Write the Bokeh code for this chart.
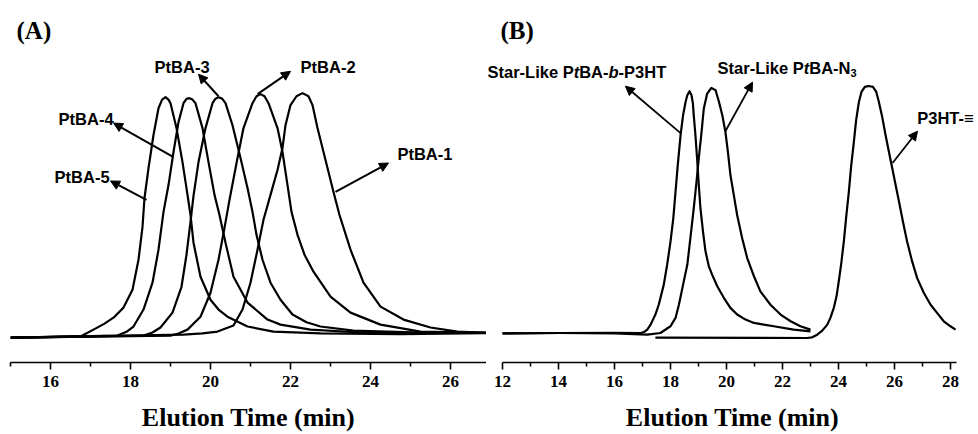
from bokeh.plotting import figure
from bokeh.models import Range1d, Label, Arrow, NormalHead, FixedTicker
from bokeh.layouts import row
from bokeh.embed import file_html
from bokeh.resources import INLINE

# ---------------- Panel A data (elution time, min / intensity, a.u.) -------------
a5_x = [15.0, 16.75, 17.075, 17.35, 17.575, 17.825, 18.05, 18.2, 18.3, 18.35, 18.45, 18.575, 18.7,
        18.79, 18.875, 18.95, 19.0, 19.15, 19.3, 19.425, 19.5, 19.575, 19.75, 20.0, 20.2, 20.425,
        20.925, 21.575, 22.75, 24.75, 27.0]
a5_y = [-0.4, 0.0, 2.9, 5.4, 7.9, 12.1, 19.6, 32.1, 45.8, 57.9, 70.4, 84.2, 95.4,
        99.0, 100.0, 99.0, 97.5, 87.1, 72.9, 59.2, 50.8, 39.2, 25.0, 15.4, 11.3, 8.3,
        4.2, 2.1, 1.3, 1.0, 1.5]

a4_x = [15.0, 17.675, 17.9, 18.075, 18.325, 18.55, 18.7, 18.825, 18.95, 19.075, 19.2, 19.325,
        19.4, 19.475, 19.55, 19.625, 19.8, 19.95, 20.1, 20.225, 20.375, 20.575, 20.925,
        21.425, 21.75, 22.5, 23.75, 27.0]
a4_y = [-0.4, 0.4, 2.0, 4.2, 11.3, 22.5, 36.3, 52.1, 63.3, 77.1, 89.6, 97.5,
        99.3, 99.6, 99.0, 97.5, 87.1, 72.9, 59.2, 50.8, 39.2, 25.0, 14.2,
        7.1, 5.0, 2.9, 1.7, 1.5]

a3_x = [15.0, 18.325, 18.55, 18.75, 19.05, 19.275, 19.4, 19.5, 19.575, 19.7, 19.875, 20.05, 20.125,
        20.2, 20.29, 20.375, 20.55, 20.75, 20.925, 21.05, 21.15, 21.3, 21.5, 21.75, 22.05,
        22.4, 22.75, 23.575, 25.25, 27.0]
a3_y = [-0.4, 0.4, 1.7, 3.8, 10.0, 20.8, 34.2, 47.9, 58.8, 72.9, 87.1, 97.5, 99.4,
        100.0, 99.4, 97.5, 88.3, 74.6, 62.1, 52.1, 42.5, 32.1, 22.5, 15.4, 9.2,
        6.0, 4.2, 2.5, 1.7, 1.5]

a2_x = [15.0, 19.0, 19.2, 19.425, 19.75, 20.0, 20.2, 20.35, 20.475, 20.675, 20.825, 21.05, 21.15,
        21.25, 21.35, 21.45, 21.675, 21.8, 21.925, 22.025, 22.175, 22.35, 22.575, 23.0,
        23.5, 24.25, 25.25, 27.0]
a2_y = [-0.4, 0.4, 1.3, 2.9, 8.3, 18.3, 32.1, 45.4, 57.1, 74.6, 87.1, 97.5, 100.4,
        101.3, 100.4, 97.5, 87.1, 77.1, 63.3, 52.1, 42.5, 34.2, 27.1, 16.7,
        10.0, 5.0, 2.1, 1.5]

a1_x = [15.0, 19.325, 19.8, 20.175, 20.575, 20.8, 21.0, 21.175, 21.325, 21.5, 21.675, 21.8, 21.875,
        22.0, 22.15, 22.3, 22.45, 22.55, 22.675, 22.825, 23.075, 23.225, 23.5, 23.825,
        24.25, 24.825, 25.5, 26.175, 27.0]
a1_y = [-0.4, 0.8, 1.3, 2.1, 4.6, 11.3, 22.5, 36.3, 48.8, 59.2, 69.6, 78.8, 88.3,
        96.7, 100.4, 101.7, 100.4, 96.7, 87.1, 77.1, 60.4, 50.8, 36.3, 22.5,
        12.5, 7.1, 3.8, 2.1, 1.5]

a_ticks = [16, 18, 20, 22, 24, 26]
a_minor = [15, 17, 19, 21, 23, 25, 27]

# ---------------- Panel B data -------------
# Star-Like PtBA-b-P3HT
b1_x = [12.0, 14.0, 16.0, 16.93, 17.05, 17.17, 17.29, 17.46, 17.58, 17.76, 17.88, 18.0, 18.10,
        18.18, 18.26, 18.36, 18.45, 18.54, 18.60, 18.68, 18.75, 18.80, 18.83, 18.89, 18.95,
        19.01, 19.07, 19.16, 19.25, 19.37, 19.49, 19.67, 19.91, 20.14, 20.38, 20.68, 20.98,
        21.33, 21.69, 22.40, 23.0]
b1_y = [1.3, 1.5, 1.6, 1.5, 1.9, 2.9, 5.0, 9.2, 13.3, 21.7, 30.0, 39.7, 49.4,
        60.6, 71.7, 84.2, 92.5, 98.1, 100.8, 102.5, 100.8, 97.4, 92.5, 84.2, 74.4,
        63.3, 53.6, 43.9, 35.6, 29.3, 25.8, 21.0, 16.1, 12.0, 9.2, 7.1, 5.7,
        5.0, 4.3, 2.9, 2.2]

# Star-Like PtBA-N3
b2_x = [12.0, 14.0, 16.0, 17.17, 17.64, 18.0, 18.18, 18.30, 18.45, 18.60, 18.71, 18.83, 18.93,
        19.01, 19.11, 19.19, 19.31, 19.46, 19.61, 19.73, 19.85, 19.96, 20.05, 20.14, 20.26,
        20.38, 20.56, 20.74, 20.98, 21.21, 21.57, 21.93, 22.29, 22.64, 23.0]
b2_y = [1.3, 1.5, 1.3, 0.8, 1.5, 4.3, 7.8, 13.3, 21.7, 30.0, 41.1, 53.6, 64.7,
        74.4, 85.6, 95.3, 101.5, 103.9, 102.9, 98.1, 92.5, 85.6, 77.2, 67.5, 59.2,
        50.8, 41.1, 32.8, 25.2, 18.9, 13.3, 9.2, 6.4, 4.3, 2.9]

# P3HT-alkyne
b3_x = [17.46, 22.88, 23.06, 23.24, 23.42, 23.60, 23.71, 23.83, 23.93, 24.01, 24.10, 24.19, 24.27,
        24.37, 24.45, 24.55, 24.63, 24.73, 24.82, 24.94, 25.08, 25.23, 25.35, 25.44, 25.56,
        25.68, 25.80, 25.92, 26.04, 26.16, 26.30, 26.45, 26.63, 26.81, 27.05, 27.29, 27.52,
        27.76, 28.0, 28.18]
b3_y = [-0.4, -0.6, -0.3, 0.8, 2.5, 5.0, 7.8, 11.9, 16.8, 23.1, 30.7, 39.7, 49.4,
        60.6, 71.0, 81.4, 90.4, 98.1, 102.2, 104.3, 104.7, 104.3, 102.2, 98.1, 91.8,
        84.2, 77.2, 70.3, 63.3, 56.4, 48.1, 39.7, 31.4, 24.4, 18.2, 13.3, 9.9,
        6.4, 4.3, 2.9]

b_ticks = [12, 14, 16, 18, 20, 22, 24, 26, 28]
b_minor = [13, 15, 17, 19, 21, 23, 25, 27]

SERIF = "Liberation Serif"
SANS = "Liberation Sans"
LW = 2.2


def make_fig(width, xr, left, right, ticks, minor, bounds):
    p = figure(width=width, height=434, x_range=Range1d(*xr), y_range=Range1d(-10.83, 140.4),
               output_backend="svg", toolbar_location=None, y_axis_location=None,
               min_border_left=left, min_border_right=right, min_border_top=0,
               min_border_bottom=71)
    p.grid.visible = False
    p.outline_line_color = None
    p.background_fill_color = "white"
    p.border_fill_color = "white"
    ax = p.xaxis[0]
    ax.bounds = bounds
    ax.ticker = FixedTicker(ticks=ticks, minor_ticks=minor)
    ax.axis_line_width = 1.6
    ax.axis_line_color = "black"
    ax.major_tick_line_width = 1.6
    ax.minor_tick_line_width = 1.6
    ax.major_tick_line_color = "black"
    ax.minor_tick_line_color = "black"
    ax.major_tick_in = 0
    ax.major_tick_out = 7
    ax.minor_tick_in = 0
    ax.minor_tick_out = 4
    ax.major_label_text_font = SERIF
    ax.major_label_text_font_style = "bold"
    ax.major_label_text_font_size = "17px"
    ax.major_label_text_color = "black"
    ax.major_label_standoff = 6
    ax.axis_label = "Elution Time (min)"
    ax.axis_label_text_font = SERIF
    ax.axis_label_text_font_style = "bold"
    ax.axis_label_text_font_size = "26px"
    ax.axis_label_text_color = "black"
    ax.axis_label_standoff = 13
    return p


def lab(p, x, y, text, size="16.5px", align="center", font=SANS, style="bold",
        x_offset=0, y_offset=0, baseline="middle"):
    p.add_layout(Label(x=x, y=y, text=text, text_font=font, text_font_style=style,
                       text_font_size=size, text_align=align, text_baseline=baseline,
                       text_color="black", x_offset=x_offset, y_offset=y_offset))


def arrow(p, x0, y0, x1, y1, lw=2.0):
    p.add_layout(Arrow(end=NormalHead(size=9, fill_color="black", line_color="black",
                                      line_width=1),
                       x_start=x0, y_start=y0, x_end=x1, y_end=y1,
                       line_color="black", line_width=lw))


# ---------------- Panel A -------------
pa = make_fig(486, (15.0, 26.9), 10, 0, a_ticks, a_minor, (15.0, 27.0))
for xs, ys in [(a5_x, a5_y), (a4_x, a4_y), (a3_x, a3_y), (a2_x, a2_y), (a1_x, a1_y)]:
    pa.line(xs, ys, line_color="black", line_width=LW, line_join="round")

lab(pa, 15.15, 127.9, "(A)", size="25px", align="left", font=SERIF)
lab(pa, 19.29, 112.5, "PtBA-3")
lab(pa, 22.94, 112.5, "PtBA-2")
lab(pa, 16.89, 90.8, "PtBA-4")
lab(pa, 25.36, 76.3, "PtBA-1")
lab(pa, 16.79, 66.5, "PtBA-5")
arrow(pa, 20.2, 100.4, 19.7, 109.6)
arrow(pa, 21.175, 101.3, 22.0, 110.8)
arrow(pa, 19.075, 75.0, 17.575, 89.2)
arrow(pa, 23.125, 60.4, 24.45, 72.5)
arrow(pa, 18.4, 57.1, 17.5, 65.0)

# ---------------- Panel B -------------
pb = make_fig(492, (11.4286, 29.0), 0, 0, b_ticks, b_minor, (12.0, 28.2))
for xs, ys in [(b1_x, b1_y), (b2_x, b2_y), (b3_x, b3_y)]:
    pb.line(xs, ys, line_color="black", line_width=LW, line_join="round")

lab(pb, 11.93, 127.9, "(B)", size="25px", align="left", font=SERIF)
# Star-Like PtBA-b-P3HT (t and b italic)
x0, y0 = 11.464, 110.7
lab(pb, x0, y0, "Star-Like P", align="left")
lab(pb, x0, y0, "t", align="left", style="bold italic", x_offset=86.2)
lab(pb, x0, y0, "BA-", align="left", x_offset=91.7)
lab(pb, x0, y0, "b", align="left", style="bold italic", x_offset=121.0)
lab(pb, x0, y0, "-P3HT", align="left", x_offset=131.1)
# Star-Like PtBA-N3
x1, y1 = 19.68, 112.3
lab(pb, x1, y1, "Star-Like P", align="left")
lab(pb, x1, y1, "t", align="left", style="bold italic", x_offset=86.2)
lab(pb, x1, y1, "BA-N", align="left", x_offset=91.7)
lab(pb, x1, y1, "3", align="left", size="11px", x_offset=132.9, y_offset=-5)
lab(pb, 27.82, 91.5, "P3HT-\u2261")
arrow(pb, 18.36, 85.0, 16.39, 104.6, lw=1.8)
arrow(pb, 19.96, 85.8, 20.93, 106.3, lw=1.8)
arrow(pb, 25.93, 72.5, 26.82, 85.8, lw=1.8)

layout = row(pa, pb)
open("out.html", "w").write(file_html(layout, INLINE))
